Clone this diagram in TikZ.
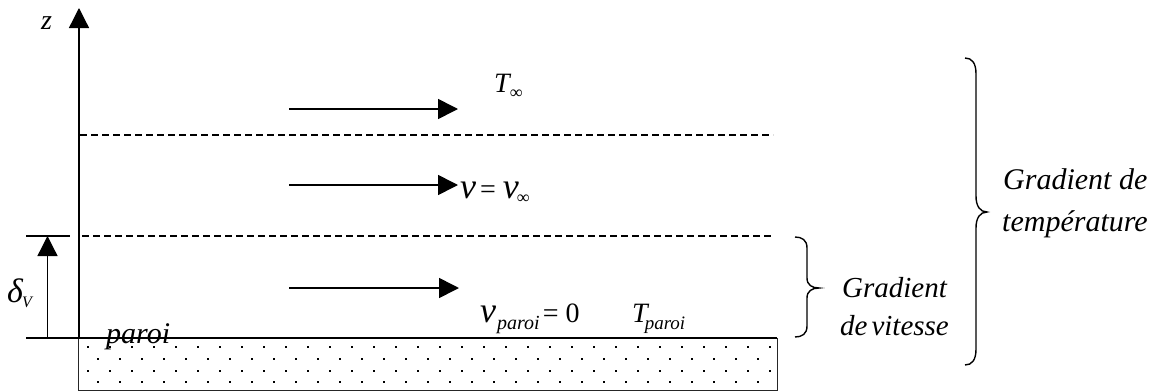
\documentclass[tikz,border=0pt]{standalone}
\usepackage{fontspec}
\setmainfont{Liberation Serif}
\usetikzlibrary{arrows.meta}
\newcommand{\fsz}[1]{\fontsize{#1}{#1}\selectfont}
\begin{document}
\begin{tikzpicture}[x=1pt,y=-1pt,
  axisline/.style={line width=1.3pt},
  flow/.style={line width=1.6pt},
  bigtip/.style={-{Triangle[length=20pt,width=20pt]}},
  dashline/.style={line width=1.5pt, dash pattern=on 7pt off 4pt},
  bracepath/.style={line width=1.4pt},
  wd/.style={font=\fsz{29}\itshape, inner sep=0pt, anchor=base west},
  eq/.style={font=\fsz{28}, inner sep=0pt, anchor=base west}]
\useasboundingbox (0,0) rectangle (1159,391);

% coordinates
\coordinate (axB) at (79,338);
\coordinate (axT) at (79,8);
\coordinate (gL) at (26,338);
\coordinate (gR) at (777,338);
\coordinate (tickL) at (26,236);
\coordinate (tickR) at (70,236);
\coordinate (dB) at (47.5,338);
\coordinate (dT) at (47.5,236);
\coordinate (d1L) at (80,135);
\coordinate (d1R) at (773,135);
\coordinate (d2L) at (82,236);
\coordinate (d2R) at (773,236);
\coordinate (a1L) at (289,109);
\coordinate (a1R) at (458,109);
\coordinate (a2L) at (289,185);
\coordinate (a2R) at (458,185);
\coordinate (a3L) at (289,288);
\coordinate (a3R) at (459,288);

% wall
\draw[line width=0.9pt, black!85] (78,338) rectangle (777,390);
\foreach \y/\s/\n in {347/88/31, 359/98/30, 371/88/31, 382/98/30}
  \foreach \i in {0,...,\n}
    \fill ({\s+22*\i-1},\y-1) rectangle ({\s+22*\i+1},\y+1);
\draw[axisline] (gL) -- (gR);

% axis
\draw[axisline,bigtip] (axB) -- (axT);
\node[wd, font=\fsz{28}\itshape] (zlab) at (41,29) {z};

% delta
\draw[axisline] (tickL) -- (tickR);
\draw[axisline,bigtip] (dB) -- (dT);
\node[wd, font=\fsz{34}\itshape] (dlab) at (7,302) {δ\kern-1pt\raisebox{-5pt}{\fsz{16}V}};

% dashed lines
\draw[dashline] (d1L) -- (d1R);
\draw[dashline] (d2L) -- (d2R);

% flow arrows
\draw[flow,bigtip] (a1L) -- (a1R);
\draw[flow,bigtip] (a2L) -- (a2R);
\draw[flow,bigtip] (a3L) -- (a3R);

% labels
\node[eq] (tinf) at (494,92) {\itshape T\kern0pt\raisebox{-6pt}{\upshape\fsz{18}∞}};
\node[eq] (vinf) at (460,198) {{\fsz{36}\itshape v}\kern4pt=\kern7pt{\fsz{36}\itshape v}\kern-2pt\raisebox{-5pt}{\fsz{18}∞}};
\node[eq] (vpar) at (480,322) {{\fsz{36}\itshape v}\kern1pt\raisebox{-7pt}{\fsz{20}\itshape paroi}\kern3pt=\kern7pt0};
\node[eq] (tpar) at (632,322) {\itshape T\kern-3pt\raisebox{-7pt}{\fsz{19}paroi}};
\node[wd, font=\fsz{30}\itshape] (plab) at (106,343) {paroi};

% braces
\draw[bracepath] (795,237) .. controls (802,237) and (807,240) .. (807,248)
  -- (807,278) .. controls (807,285) and (812,288) .. (819,288)
  .. controls (812,288) and (807,291) .. (807,298)
  -- (807,326) .. controls (807,334) and (802,337) .. (795,337);
\draw[bracepath] (965,58) .. controls (972,58) and (976,63) .. (976,74)
  -- (976,196) .. controls (976,206) and (980,212) .. (987,212)
  .. controls (980,212) and (976,218) .. (976,228)
  -- (976,349) .. controls (976,360) and (972,365) .. (965,365);

\node[wd] (gv1) at (842,297) {Gradient};
\node[wd] (gv2) at (840,335) {de\kern4pt vitesse};
\node[wd, font=\fsz{30}\itshape] (gt1) at (1003,189) {Gradient de};
\node[wd, font=\fsz{30}\itshape] (gt2) at (1002,231) {température};
\end{tikzpicture}
\end{document}
